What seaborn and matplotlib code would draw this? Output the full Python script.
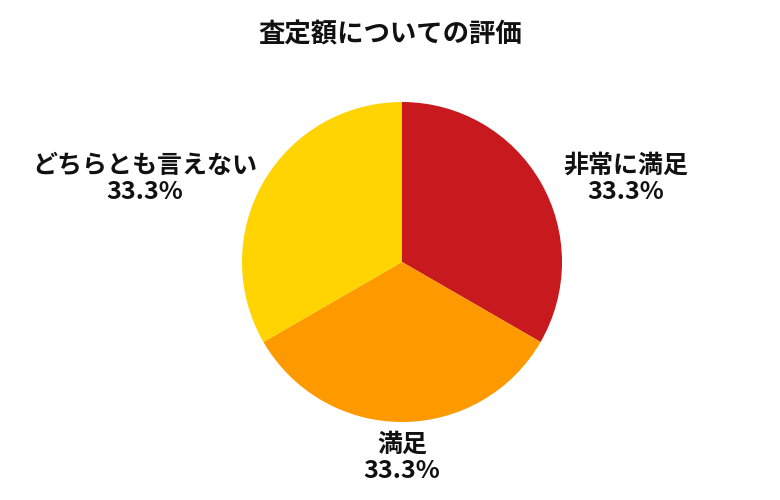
import matplotlib
matplotlib.use("Agg")
import matplotlib.pyplot as plt
import seaborn as sns

# ---- data ----
title = "査定額についての評価"
categories = ["非常に満足", "満足", "どちらとも言えない"]
values = [1, 1, 1]
colors = ["#C8191E", "#FF9900", "#FFD400"]

# ---- layout (label centres in pie-radius units) ----
label_pos = [(1.40, 0.52), (0.0, -1.225), (-1.61, 0.52)]

sns.set_theme(style="white")
plt.rcParams["font.family"] = ["Noto Sans CJK JP", "DejaVu Sans"]

fig = plt.figure(figsize=(7.8, 5.0), dpi=100)
fig.patch.set_facecolor("white")
ax = fig.add_axes([242 / 780, 78 / 500, 320 / 780, 320 / 500])

total = sum(values)
wedges, _ = ax.pie(values, colors=colors, startangle=90, counterclock=False,
                   radius=1.0, wedgeprops=dict(linewidth=0))
ax.set_xlim(-1, 1)
ax.set_ylim(-1, 1)
ax.set_aspect("equal")
ax.axis("off")

for cat, v, (x, y) in zip(categories, values, label_pos):
    pct = v / total * 100
    ax.text(x, y, f"{cat}\n{pct:.1f}%", ha="center", va="center",
            fontsize=18, fontweight="bold", color="#111111",
            linespacing=1.15, clip_on=False)

fig.text(390 / 780, 1 - 35 / 500, title, ha="center", va="center",
         fontsize=19, fontweight="bold", color="#111111")

fig.savefig("out.png", dpi=100, facecolor="white")
